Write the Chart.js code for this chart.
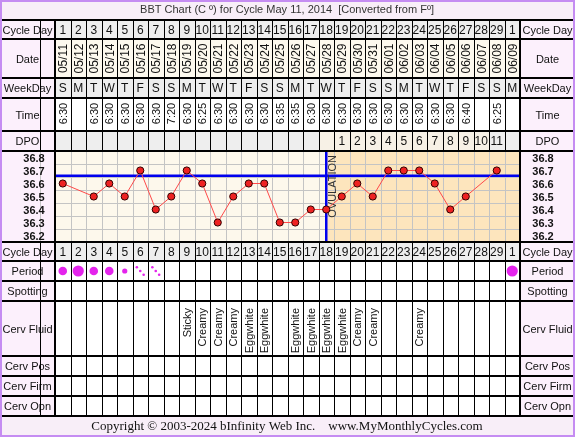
<!DOCTYPE html>
<html>
<head>
<meta charset="utf-8">
<script src="https://cdn.jsdelivr.net/npm/chart.js@4.4.1/dist/chart.umd.min.js"></script>
<style>
  html, body { margin: 0; padding: 0; background: #fff; }
  canvas { display: block; }
</style>
</head>
<body>
<canvas id="bbt" width="575" height="437"></canvas>
<script>
// datos del ciclo
const cycleDays = ['1','2','3','4','5','6','7','8','9','10','11','12','13','14','15','16','17','18','19','20','21','22','23','24','25','26','27','28','29','1'];
const dates = ['05/11','05/12','05/13','05/14','05/15','05/16','05/17','05/18','05/19','05/20','05/21','05/22','05/23','05/24','05/25','05/26','05/27','05/28','05/29','05/30','05/31','06/01','06/02','06/03','06/04','06/05','06/06','06/07','06/08','06/09'];
const weekDays = ['S','M','T','W','T','F','S','S','M','T','W','T','F','S','S','M','T','W','T','F','S','S','M','T','W','T','F','S','S','M'];
const times = ['6:30','','6:30','6:30','6:30','6:30','6:30','7:20','6:30','6:25','6:30','6:30','6:30','6:30','6:35','6:35','6:30','6:30','6:30','6:30','6:30','6:30','6:30','6:30','6:30','6:30','6:40','','6:25',''];
const dpo = ['','','','','','','','','','','','','','','','','','','1','2','3','4','5','6','7','8','9','10','11',''];
const temps = [36.6, null, 36.5, 36.6, 36.5, 36.7, 36.4, 36.5, 36.7, 36.6, 36.3, 36.5, 36.6, 36.6, 36.3, 36.3, 36.4, 36.4, 36.5, 36.6, 36.5, 36.7, 36.7, 36.7, 36.6, 36.4, 36.5, null, 36.7, null];
// H = abundante, M = medio, L = ligero, S = manchado
const period = ['M','H','M','M','L','S','S','','','','','','','','','','','','','','','','','','','','','','','H'];
const cervFluid = ['','','','','','','','','Sticky','Creamy','Creamy','Creamy','Eggwhite','Eggwhite','','Eggwhite','Eggwhite','Eggwhite','Eggwhite','Creamy','Creamy','','','Creamy','','','','','',''];
const tempTicks = [36.8, 36.7, 36.6, 36.5, 36.4, 36.3, 36.2];
const coverline = 36.66;
const ovulationDay = 18;

const SANS = '"Liberation Sans", Arial, sans-serif';
const LEFT = 55, RIGHT = 520, W = 575, H = 437;
const CHART_TOP = 151, CHART_BOTTOM = 242;

const rows = [
  { key: 'cd',    y0: 20,  y1: 39,  label: 'Cycle Day',  bg: '#eeeeee' },
  { key: 'date',  y0: 39,  y1: 78,  label: 'Date',       bg: '#fdf9ee' },
  { key: 'wd',    y0: 78,  y1: 98,  label: 'WeekDay',    bg: '#eeeeee' },
  { key: 'time',  y0: 98,  y1: 131, label: 'Time',       bg: '#ffffff' },
  { key: 'dpo',   y0: 131, y1: 151, label: 'DPO',        bg: '#eeeeee' },
  { key: 'cd',    y0: 242, y1: 261, label: 'Cycle Day',  bg: '#eeeeee' },
  { key: 'per',   y0: 261, y1: 281, label: 'Period',     bg: '#ffffff' },
  { key: 'spot',  y0: 281, y1: 301, label: 'Spotting',   bg: '#ffffff' },
  { key: 'fluid', y0: 301, y1: 356, label: 'Cerv Fluid', bg: '#ffffff' },
  { key: 'pos',   y0: 356, y1: 376, label: 'Cerv Pos',   bg: '#ffffff' },
  { key: 'firm',  y0: 376, y1: 396, label: 'Cerv Firm',  bg: '#ffffff' },
  { key: 'opn',   y0: 396, y1: 416, label: 'Cerv Opn',   bg: '#ffffff' }
];

function rotText(ctx, txt, x, y, align) {
  ctx.save();
  ctx.translate(x, y);
  ctx.rotate(-Math.PI / 2);
  ctx.textAlign = align;
  ctx.textBaseline = 'middle';
  ctx.fillText(txt, 0, 0);
  ctx.restore();
}

const tablePlugin = {
  id: 'tabla',
  beforeDatasetsDraw(chart) {
    const ctx = chart.ctx;
    const xs = chart.scales.x, ys = chart.scales.y;
    const ca = chart.chartArea;
    const n = cycleDays.length;
    const colX = i => xs.getPixelForValue(i + 1);
    const edge = k => Math.round(xs.getPixelForValue(k + 0.5)) + 0.5;

    ctx.save();
    ctx.fillStyle = '#ffffff';
    ctx.fillRect(0, 0, W, H);

    // titulo
    ctx.fillStyle = '#f8eef8';
    ctx.fillRect(0, 0, W, 20);
    ctx.fillStyle = '#333';
    ctx.font = '11px ' + SANS;
    ctx.textAlign = 'center';
    ctx.textBaseline = 'middle';
    ctx.fillText('BBT Chart (C \u00BA) for Cycle May 11, 2014  [Converted from F\u00BA]', 287, 10);

    // filas de la tabla
    rows.forEach(r => {
      const ym = (r.y0 + r.y1) / 2;
      ctx.fillStyle = '#fcf0fc';
      ctx.fillRect(0, r.y0, LEFT, r.y1 - r.y0);
      ctx.fillRect(RIGHT, r.y0, W - RIGHT, r.y1 - r.y0);
      ctx.fillStyle = r.bg;
      ctx.fillRect(LEFT, r.y0, RIGHT - LEFT, r.y1 - r.y0);
      if (r.key === 'dpo') {
        ctx.fillStyle = '#f7f1e6';
        for (let i = 0; i < n; i++) if (dpo[i]) ctx.fillRect(edge(i - 1), r.y0, edge(i) - edge(i - 1), r.y1 - r.y0);
      }
      ctx.fillStyle = '#111';
      ctx.font = '11px ' + SANS;
      ctx.textAlign = 'center';
      ctx.textBaseline = 'middle';
      ctx.fillText(r.label, LEFT / 2, ym + 1);
      ctx.fillText(r.label, (RIGHT + W) / 2, ym + 1);

      ctx.font = '12px ' + SANS;
      for (let i = 0; i < n; i++) {
        const x = colX(i);
        if (r.key === 'cd') ctx.fillText(cycleDays[i], x, ym + 1);
        else if (r.key === 'wd') ctx.fillText(weekDays[i], x, ym + 1);
        else if (r.key === 'dpo' && dpo[i]) ctx.fillText(dpo[i], x, ym + 1);
        else if (r.key === 'date') rotText(ctx, dates[i], x + 1, ym, 'center');
        else if (r.key === 'time' && times[i]) { ctx.font = '11px ' + SANS; rotText(ctx, times[i], x + 1, ym - 1, 'center'); ctx.font = '12px ' + SANS; }
        else if (r.key === 'fluid' && cervFluid[i]) { ctx.font = '11px ' + SANS; rotText(ctx, cervFluid[i], x + 1, r.y0 + 7, 'right'); ctx.font = '12px ' + SANS; }
        else if (r.key === 'per' && period[i]) {
          ctx.fillStyle = '#e424ec';
          if (period[i] === 'S') {
            [-1, 0, 1].forEach(k => {
              ctx.beginPath();
              ctx.arc(x + k * 3.4, ym + k * 3.8, 1.3, 0, Math.PI * 2);
              ctx.fill();
            });
          } else {
            const rad = { H: 5.6, M: 4.3, L: 2.6 }[period[i]];
            ctx.beginPath();
            ctx.arc(x, ym, rad, 0, Math.PI * 2);
            ctx.fill();
          }
          ctx.fillStyle = '#111';
        }
      }
      // lineas de columna
      ctx.strokeStyle = '#000';
      ctx.lineWidth = 1;
      ctx.beginPath();
      for (let k = -1; k < n; k++) {
        ctx.moveTo(edge(k), r.y0);
        ctx.lineTo(edge(k), r.y1);
      }
      ctx.stroke();
    });

    // zona de temperaturas
    ctx.fillStyle = '#fcf0fc';
    ctx.fillRect(0, CHART_TOP, LEFT, CHART_BOTTOM - CHART_TOP);
    ctx.fillRect(RIGHT, CHART_TOP, W - RIGHT, CHART_BOTTOM - CHART_TOP);
    ctx.fillStyle = '#fdf8ec';
    ctx.fillRect(ca.left, ca.top, ca.width, ca.height);
    const ovX = xs.getPixelForValue(ovulationDay);
    ctx.fillStyle = '#fde5bd';
    ctx.fillRect(ovX, ca.top, ca.right - ovX, ca.height);

    ctx.strokeStyle = '#c4c4c4';
    ctx.lineWidth = 1;
    ctx.beginPath();
    for (let k = -1; k < n; k++) {
      ctx.moveTo(edge(k), ca.top);
      ctx.lineTo(edge(k), ca.bottom);
    }
    tempTicks.slice(1).forEach(t => {
      const y = Math.round(ys.getPixelForValue(t + 0.05)) + 0.5;
      ctx.moveTo(ca.left, y);
      ctx.lineTo(ca.right, y);
    });
    ctx.stroke();

    ctx.fillStyle = '#111';
    ctx.font = 'bold 11px ' + SANS;
    ctx.textAlign = 'center';
    tempTicks.forEach(t => {
      const y = ys.getPixelForValue(t) + 1;
      ctx.fillText(t.toFixed(1), 34, y);
      ctx.fillText(t.toFixed(1), 543, y);
    });

    // linea de cobertura y ovulacion
    ctx.strokeStyle = '#0000ee';
    ctx.lineWidth = 2.5;
    ctx.beginPath();
    const cy = ys.getPixelForValue(coverline);
    ctx.moveTo(ca.left, cy);
    ctx.lineTo(ca.right, cy);
    ctx.moveTo(ovX, ca.top);
    ctx.lineTo(ovX, ca.bottom);
    ctx.stroke();
    ctx.fillStyle = '#333';
    ctx.font = '11px ' + SANS;
    rotText(ctx, 'OVULATION', ovX + 7, ca.top + 4, 'right');

    // separadores gruesos
    ctx.strokeStyle = '#000';
    ctx.lineWidth = 2;
    ctx.beginPath();
    [20, 39, 78, 98, 131, 151, 242, 261, 281, 301, 356, 376, 396, 416].forEach(y => {
      ctx.moveTo(0, y);
      ctx.lineTo(W, y);
    });
    ctx.moveTo(LEFT, 20); ctx.lineTo(LEFT, 416);
    ctx.moveTo(RIGHT, 20); ctx.lineTo(RIGHT, 416);
    ctx.stroke();

    // pie
    ctx.fillStyle = '#f8eef8';
    ctx.fillRect(0, 417, W, H - 417);
    ctx.fillStyle = '#111';
    ctx.font = '13px "Liberation Serif", "Times New Roman", serif';
    ctx.textAlign = 'center';
    ctx.fillText('Copyright \u00A9 2003-2024 bInfinity Web Inc.    www.MyMonthlyCycles.com', 287, 427);

    ctx.strokeStyle = '#c58cf2';
    ctx.lineWidth = 2;
    ctx.strokeRect(1, 1, W - 2, H - 2);
    ctx.restore();
  }
};

new Chart(document.getElementById('bbt'), {
  type: 'line',
  data: {
    datasets: [{
      label: 'BBT',
      data: temps.map((t, i) => ({ x: i + 1, y: t })),
      spanGaps: true,
      borderWidth: 1,
      borderColor: '#ff4a4a',
      pointBackgroundColor: '#ee2222',
      pointBorderColor: '#330000',
      pointBorderWidth: 1,
      pointRadius: 3.6,
      segment: {
        borderColor: c => (c.p1DataIndex - c.p0DataIndex > 1 ? '#3a3aff' : '#ff4a4a'),
        borderDash: c => (c.p1DataIndex - c.p0DataIndex > 1 ? [5, 6] : undefined)
      }
    }]
  },
  options: {
    responsive: false,
    animation: false,
    layout: { padding: { left: LEFT, right: W - RIGHT, top: CHART_TOP, bottom: H - CHART_BOTTOM } },
    plugins: { legend: { display: false }, tooltip: { enabled: false } },
    scales: {
      x: { type: 'linear', min: 0.5, max: 30.5, display: false },
      y: { type: 'linear', min: 36.15, max: 36.85, display: false }
    }
  },
  plugins: [tablePlugin]
});
</script>
</body>
</html>
